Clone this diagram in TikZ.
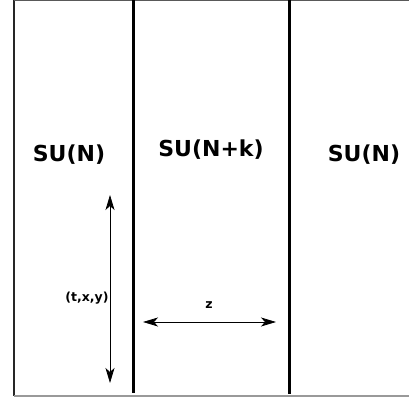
\documentclass[tikz,border=0pt]{standalone}
\usepackage{fontspec}
\setmainfont{DejaVu Sans}
\usetikzlibrary{arrows.meta, positioning}

\begin{document}
\begin{tikzpicture}[x=1pt, y=1pt, >={Stealth[length=15pt, width=9pt, inset=4pt]}]

\useasboundingbox (0,0) rectangle (409,398);

\tikzset{
  wall/.style={line width=3pt, draw=black},
  grouplab/.style={anchor=base, inner sep=0pt, font=\fontsize{22}{26}\selectfont\bfseries},
  coordlab/.style={anchor=base, inner sep=0pt, font=\fontsize{12.5}{15}\selectfont\bfseries}
}

% frame
\draw[line width=1.2pt, draw=black!85] (14,398) -- (14,2);
\draw[line width=1.5pt, draw=black!65] (14,397.5) -- (409,397.5);
\draw[line width=1.6pt, draw=black!40] (14,2) -- (409,2);

% domain walls
\draw[wall] (133,398) -- (133,5);
\draw[wall] (289,398) -- (289,4);

\node[grouplab] (left)  at (69,236)  {SU(N)};
\node[grouplab] (mid)   at (211,241) {SU(N+k)};
\node[grouplab] (right) at (364,236) {SU(N)};

\coordinate (ttop) at (110,203);
\coordinate (tbot) at (110,15);
\coordinate (zl)   at (143,76);
\coordinate (zr)   at (276,76);

\draw[<->, line width=0.8pt] (ttop) -- (tbot);
\draw[<->, line width=0.8pt] (zl) -- (zr);

\node[coordlab] (tlab) at (87,96) {(t,x,y)};
\node[coordlab] (zlab) at (209,89) {z};

\end{tikzpicture}
\end{document}
